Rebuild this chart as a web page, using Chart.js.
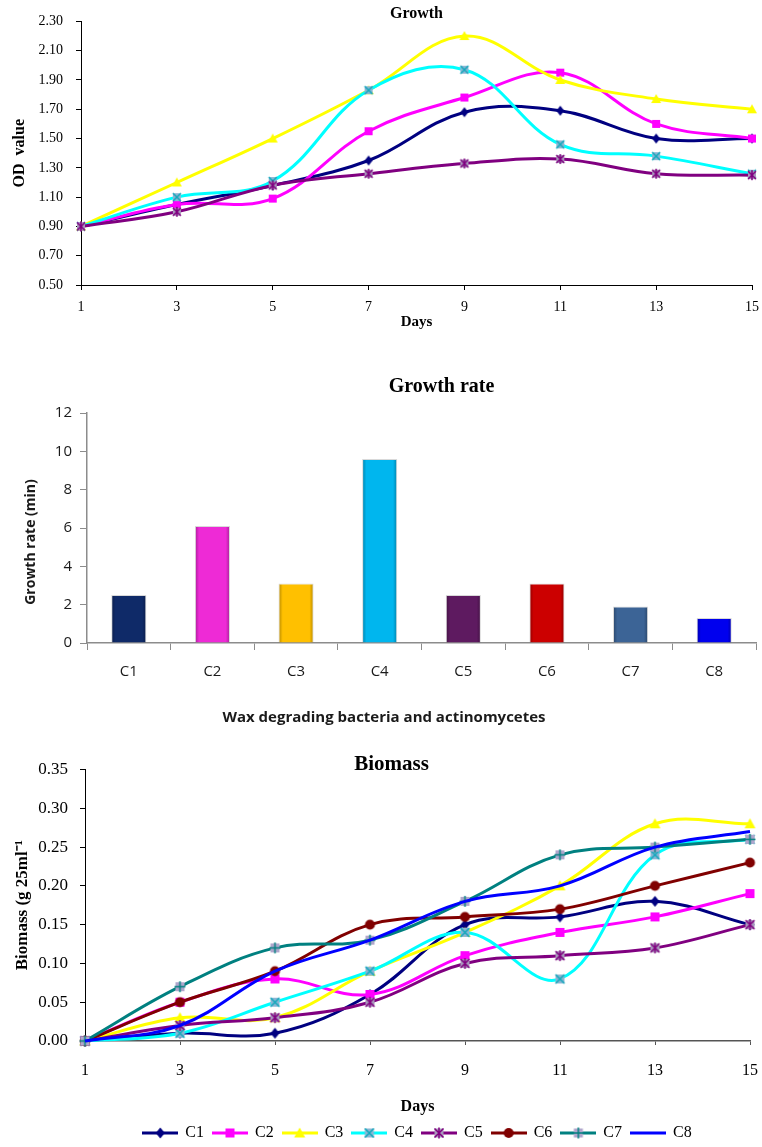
<!DOCTYPE html>
<html>
<head>
<meta charset="utf-8">
<title>Growth, growth rate and biomass</title>
<script src="https://cdn.jsdelivr.net/npm/chart.js@4.4.1/dist/chart.umd.min.js"></script>
<style>
    html, body { margin: 0; padding: 0; background: #fff; overflow: hidden; }
    .panel { position: absolute; left: 0; width: 762px; }
</style>
</head>
<body>
<div class="panel" style="top:0;height:335px"><canvas id="growthChart" width="762" height="335"></canvas></div>
<div class="panel" style="top:335px;height:400px"><canvas id="rateChart" width="762" height="400"></canvas></div>
<div class="panel" style="top:735px;height:416px"><canvas id="biomassChart" width="762" height="416"></canvas></div>

<script>
// ---- data ----
const days = ['1', '3', '5', '7', '9', '11', '13', '15'];
const cultures = ['C1', 'C2', 'C3', 'C4', 'C5', 'C6', 'C7', 'C8'];

// Growth (OD value), C1..C5
const odC1 = [0.90, 1.05, 1.18, 1.35, 1.68, 1.69, 1.50, 1.50];
const odC2 = [0.90, 1.05, 1.09, 1.55, 1.78, 1.95, 1.60, 1.50];
const odC3 = [0.90, 1.20, 1.50, 1.83, 2.20, 1.90, 1.77, 1.70];
const odC4 = [0.90, 1.10, 1.21, 1.83, 1.97, 1.46, 1.38, 1.26];
const odC5 = [0.90, 1.00, 1.18, 1.26, 1.33, 1.36, 1.26, 1.25];

// Growth rate (min)
const growthRate = [2.5, 6.1, 3.1, 9.6, 2.5, 3.1, 1.9, 1.3];

// Biomass (g 25ml-1), C1..C8
const bmC1 = [0, 0.01, 0.01, 0.06, 0.15, 0.16, 0.18, 0.15];
const bmC2 = [0, 0.05, 0.08, 0.06, 0.11, 0.14, 0.16, 0.19];
const bmC3 = [0, 0.03, 0.03, 0.09, 0.14, 0.20, 0.28, 0.28];
const bmC4 = [0, 0.01, 0.05, 0.09, 0.14, 0.08, 0.24, 0.26];
const bmC5 = [0, 0.02, 0.03, 0.05, 0.10, 0.11, 0.12, 0.15];
const bmC6 = [0, 0.05, 0.09, 0.15, 0.16, 0.17, 0.20, 0.23];
const bmC7 = [0, 0.07, 0.12, 0.13, 0.18, 0.24, 0.25, 0.26];
const bmC8 = [0, 0.02, 0.09, 0.13, 0.18, 0.20, 0.25, 0.27];

// ---- styles ----
const SERIF = "'Liberation Serif', 'Times New Roman', serif";
const SANS = "'Open Sans', sans-serif";

const lineColors = ['#000080', '#ff00ff', '#ffff00', '#00ffff', '#800080', '#800000', '#008080', '#0000ff'];
const markerShapes = ['diamond', 'square', 'triangle', 'xbox', 'starbox', 'circle', 'plusbox', 'none'];
const markerFills = ['#000080', '#ff00ff', '#ffff00', '#8cb6d4', '#a898bc', '#800000', '#b0a6cc', '#0000ff'];
const markerStrokes = [null, null, null, '#12a8bc', '#800080', null, '#008080', null];
const barColors = ['#0f2a68', '#ee2ad6', '#ffc000', '#00b6ee', '#5e1a60', '#cc0000', '#3c6496', '#0000ee'];

Chart.defaults.font.family = SERIF;
Chart.defaults.color = '#000';

function paintMarker(g, i, cx, cy, s) {
    g.fillStyle = markerFills[i];
    g.strokeStyle = markerStrokes[i] || markerFills[i];
    g.lineWidth = 1.5;
    g.beginPath();
    switch (markerShapes[i]) {
        case 'diamond':
            g.moveTo(cx, cy - s - 1); g.lineTo(cx + s, cy); g.lineTo(cx, cy + s + 1); g.lineTo(cx - s, cy);
            g.closePath(); g.fill();
            break;
        case 'square':
            g.fillRect(cx - s, cy - s, 2 * s, 2 * s);
            break;
        case 'triangle':
            g.moveTo(cx, cy - s - 1); g.lineTo(cx + s + 1, cy + s); g.lineTo(cx - s - 1, cy + s);
            g.closePath(); g.fill();
            break;
        case 'circle':
            g.arc(cx, cy, s + 0.5, 0, Math.PI * 2); g.fill();
            break;
        case 'xbox':
        case 'starbox':
        case 'plusbox':
            g.fillRect(cx - s, cy - s, 2 * s, 2 * s);
            if (markerShapes[i] !== 'plusbox') {
                g.moveTo(cx - s, cy - s); g.lineTo(cx + s, cy + s);
                g.moveTo(cx + s, cy - s); g.lineTo(cx - s, cy + s);
            }
            if (markerShapes[i] !== 'xbox') {
                g.moveTo(cx, cy - s - 1); g.lineTo(cx, cy + s + 1);
            }
            if (markerShapes[i] === 'plusbox') {
                g.moveTo(cx - s - 1, cy); g.lineTo(cx + s + 1, cy);
            }
            g.stroke();
            break;
    }
}

function markerImage(i, s) {
    const size = Math.ceil(2 * s + 4);
    const c = document.createElement('canvas');
    c.width = size; c.height = size;
    paintMarker(c.getContext('2d'), i, size / 2, size / 2, s);
    return c;
}

function legendImage(i, s) {
    const c = document.createElement('canvas');
    c.width = 36; c.height = 14;
    const g = c.getContext('2d');
    g.strokeStyle = lineColors[i];
    g.lineWidth = 3;
    g.beginPath(); g.moveTo(0, 7); g.lineTo(36, 7); g.stroke();
    if (markerShapes[i] !== 'none') paintMarker(g, i, 18, 7, s);
    return c;
}

function lineSet(i, values, s) {
    const none = markerShapes[i] === 'none';
    return {
        label: cultures[i],
        data: values,
        borderColor: lineColors[i],
        backgroundColor: lineColors[i],
        borderWidth: 3,
        tension: 0.38,
        fill: false,
        clip: false,
        order: 10 - i,
        pointStyle: none ? 'circle' : markerImage(i, s),
        pointRadius: none ? 0 : 5
    };
}

function axisGrid(color, len) {
    return { display: true, drawOnChartArea: false, drawTicks: true, tickLength: len, color: color, lineWidth: 1 };
}

function shade(hex, f) {
    const n = parseInt(hex.slice(1), 16);
    const r = Math.round(((n >> 16) & 255) * f), g = Math.round(((n >> 8) & 255) * f), b = Math.round((n & 255) * f);
    return `rgb(${r},${g},${b})`;
}

// bevel-like fill across each bar
function barFill(ctx) {
    const chart = ctx.chart;
    const xs = chart.scales.x;
    const base = barColors[ctx.dataIndex];
    if (!xs || !chart.chartArea) return base;
    const x = xs.getPixelForValue(ctx.dataIndex);
    const half = xs.width / cultures.length * 0.21;
    const gr = chart.ctx.createLinearGradient(x - half, 0, x + half, 0);
    gr.addColorStop(0, shade(base, 0.7));
    gr.addColorStop(0.12, base);
    gr.addColorStop(0.88, base);
    gr.addColorStop(1, shade(base, 0.7));
    return gr;
}

// ---- Growth ----
new Chart(document.getElementById('growthChart'), {
    type: 'line',
    data: {
        labels: days,
        datasets: [odC1, odC2, odC3, odC4, odC5].map((v, i) => lineSet(i, v, 4))
    },
    options: {
        responsive: false,
        animation: false,
        plugins: {
            legend: { display: false },
            tooltip: { enabled: false },
            title: {
                display: true, text: 'Growth', fullSize: false,
                font: { family: SERIF, size: 16, weight: 'bold', lineHeight: 1 },
                padding: { top: 3, bottom: 0 }, color: '#000'
            }
        },
        scales: {
            x: {
                grid: axisGrid('#000', 5),
                border: { display: true, color: '#000', width: 1 },
                ticks: { font: { family: SERIF, size: 14 }, padding: 9, maxRotation: 0 },
                title: { display: true, text: 'Days', font: { family: SERIF, size: 15, weight: 'bold' }, padding: { top: 0, bottom: 4 } },
                afterFit: s => { s.height = 50; s.paddingRight = 10; }
            },
            y: {
                min: 0.5, max: 2.3,
                grid: axisGrid('#000', 5),
                border: { display: true, color: '#000', width: 1 },
                ticks: { stepSize: 0.2, font: { family: SERIF, size: 14 }, padding: 13, callback: v => v.toFixed(2) },
                title: { display: true, text: 'OD  value', font: { family: SERIF, size: 16, weight: 'bold' }, padding: { top: 10, bottom: 0 } },
                afterFit: s => { s.width = 81; }
            }
        }
    }
});

// ---- Growth rate ----
new Chart(document.getElementById('rateChart'), {
    type: 'bar',
    data: {
        labels: cultures,
        datasets: [{
            label: 'Growth rate',
            data: growthRate,
            backgroundColor: barFill,
            borderColor: 'rgba(0,0,0,0.15)',
            borderWidth: 1,
            categoryPercentage: 1,
            barPercentage: 0.42
        }]
    },
    options: {
        responsive: false,
        animation: false,
        plugins: {
            legend: { display: false },
            tooltip: { enabled: false },
            title: {
                display: true, text: '\u2003\u2003Growth rate', fullSize: false,
                font: { family: SERIF, size: 20, weight: 'bold', lineHeight: 1.2 },
                padding: { top: 40, bottom: 14 }, color: '#000'
            }
        },
        scales: {
            x: {
                grid: { ...axisGrid('#8c8c8c', 7), offset: true },
                border: { display: true, color: '#8c8c8c', width: 1.5 },
                ticks: { font: { family: SANS, size: 15 }, padding: 13, color: '#1a1a1a' },
                title: {
                    display: true, text: 'Wax degrading bacteria and actinomycetes' + '\u2003'.repeat(5),
                    font: { family: SANS, size: 15, weight: 'bold' }, padding: { top: 0, bottom: 8 }, color: '#1a1a1a'
                },
                afterFit: s => { s.height = 92; s.paddingRight = 6; }
            },
            y: {
                min: 0, max: 12,
                grid: axisGrid('#8c8c8c', 7),
                border: { display: true, color: '#8c8c8c', width: 1.5 },
                ticks: { stepSize: 2, font: { family: SANS, size: 15 }, padding: 8, color: '#1a1a1a' },
                title: {
                    display: true, text: 'Growth rate (min)\u2003\u2003',
                    font: { family: SANS, size: 14, weight: 'bold' }, padding: { top: 23, bottom: 0 }, color: '#1a1a1a'
                },
                afterFit: s => { s.width = 87; }
            }
        }
    }
});

// ---- Biomass ----
new Chart(document.getElementById('biomassChart'), {
    type: 'line',
    data: {
        labels: days,
        datasets: [bmC1, bmC2, bmC3, bmC4, bmC5, bmC6, bmC7, bmC8].map((v, i) => lineSet(i, v, 4.5))
    },
    options: {
        responsive: false,
        animation: false,
        plugins: {
            tooltip: { enabled: false },
            title: {
                display: true, text: '\u2003Biomass',
                font: { family: SERIF, size: 21, weight: 'bold', lineHeight: 0.5 },
                padding: { top: 24, bottom: 0 }, color: '#000'
            },
            legend: {
                position: 'bottom',
                fullSize: false,
                labels: {
                    usePointStyle: true,
                    pointStyleWidth: 34,
                    padding: 9,
                    color: '#000',
                    font: { family: SERIF, size: 16 },
                    generateLabels: chart => {
                        const items = Chart.defaults.plugins.legend.labels.generateLabels(chart);
                        items.sort((a, b) => a.datasetIndex - b.datasetIndex);
                        items.forEach(it => { it.pointStyle = legendImage(it.datasetIndex, 4.5); });
                        return items;
                    }
                }
            }
        },
        scales: {
            x: {
                grid: axisGrid('#555', 4),
                border: { display: true, color: '#555', width: 1.5 },
                ticks: { font: { family: SERIF, size: 16 }, padding: 16, maxRotation: 0 },
                title: { display: true, text: 'Days', font: { family: SERIF, size: 16, weight: 'bold' }, padding: { top: 0, bottom: 0 } },
                afterFit: s => { s.height = 75; s.paddingRight = 12; }
            },
            y: {
                min: 0, max: 0.35,
                grid: axisGrid('#000', 5),
                border: { display: true, color: '#000', width: 1 },
                ticks: { stepSize: 0.05, font: { family: SERIF, size: 17 }, padding: 12, callback: v => v.toFixed(2) },
                title: { display: true, text: 'Biomass (g 25ml\u207B\u00B9', font: { family: SERIF, size: 17, weight: 'bold' }, padding: { top: 12, bottom: 0 } },
                afterFit: s => { s.width = 85; }
            }
        }
    }
});
</script>
</body>
</html>
